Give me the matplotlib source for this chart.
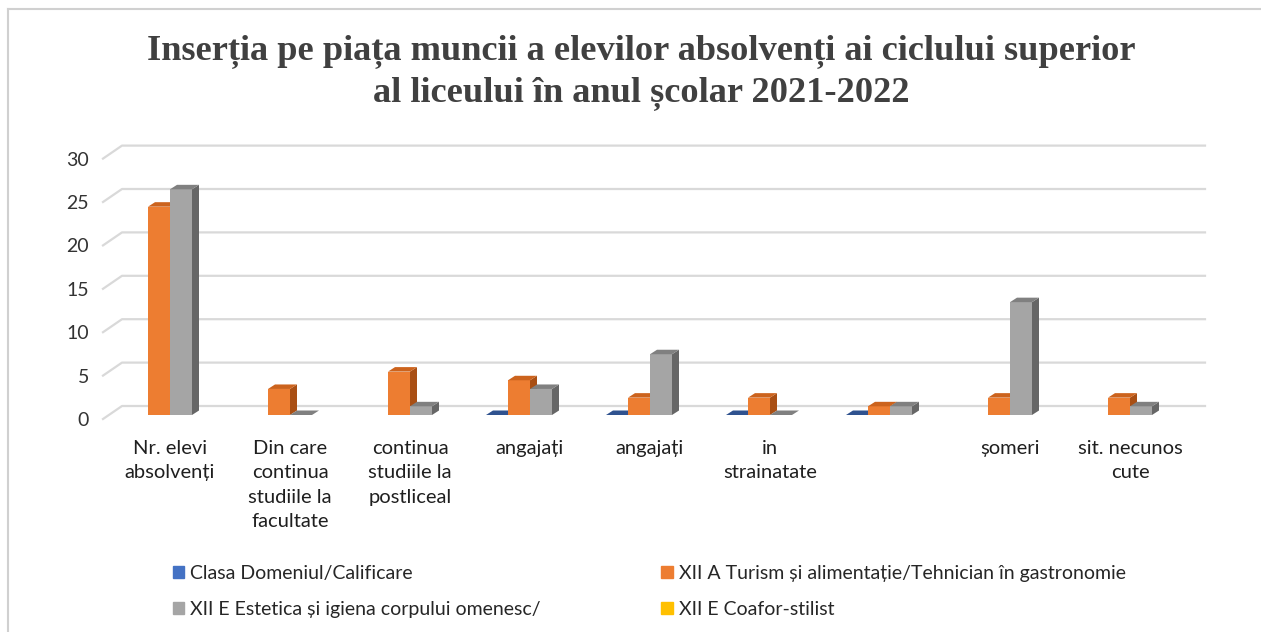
import numpy as np
import matplotlib
matplotlib.use("Agg")
import matplotlib.pyplot as plt
from matplotlib.patches import Polygon, Patch
from matplotlib.lines import Line2D
from matplotlib.transforms import ScaledTranslation

# ---------------- data ----------------
categories = ["Nr. elevi\nabsolvenți", "Din care\ncontinua\nstudiile la\nfacultate",
              "continua\nstudiile la\npostliceal", "angajați", "angajați",
              "in\nstrainatate", "", "șomeri", "sit. necunos\ncute"]
series_names = ["Clasa Domeniul/Calificare",
                "XII A Turism și alimentație/Tehnician în gastronomie",
                "XII E Estetica și igiena corpului omenesc/",
                "XII E Coafor-stilist"]
clasa = [np.nan, np.nan, np.nan, 0, 0, 0, 0, np.nan, np.nan]
turism = [24, 3, 5, 4, 2, 2, 1, 2, 2]
estetica = [26, 0, 1, 3, 7, 0, 1, 13, 1]
coafor = [np.nan] * 9
yticks = [0, 5, 10, 15, 20, 25, 30]
title = "Inserția pe piața muncii a elevilor absolvenți ai ciclului superior\nal liceului în anul școlar 2021-2022"

# colors: (front, top, side)
colors = [("#4472C4", "#2F528F", "#24406F"),
          ("#ED7D31", "#CC631D", "#A94F14"),
          ("#A5A5A5", "#808080", "#666666"),
          ("#FFC000", "#D9A300", "#B38600")]

W, H = 1261, 632
fig = plt.figure(figsize=(W / 100, H / 100), dpi=100)
fig.patch.set_facecolor("white")

# axes in pixel geometry
left_px, right_px, base_px = 103, 1190, 415
ppu_y = 8.68
top_px = base_px - 30 * ppu_y
ax = fig.add_axes([left_px / W, 1 - base_px / H, (right_px - left_px) / W, (base_px - top_px) / H])
ppu_x = 120.0
xmin = -(170 - left_px) / ppu_x
xmax = xmin + (right_px - left_px) / ppu_x
ax.set_xlim(xmin, xmax)
ax.set_ylim(0, 30)
for s in ax.spines.values():
    s.set_visible(False)
ax.set_facecolor("none")

# back-wall gridlines with perspective diagonals
dxg, dyg = 19 / ppu_x, 9 / ppu_y
dy_front = -4 / ppu_y
for v in yticks:
    ax.add_line(Line2D([xmin, xmin + dxg, xmax + 15 / ppu_x],
                       [v + dy_front, v + dyg, v + dyg],
                       color="#D9D9D9", lw=1.6, clip_on=False, zorder=1))

# 3D bars
bw = 22 / ppu_x
ddx, ddy = 7 / ppu_x, 4.5 / ppu_y
all_series = [clasa, turism, estetica, coafor]
x = np.arange(len(categories))
z = 2
for ci in range(len(categories)):
    for si, vals in enumerate(all_series):
        v = vals[ci]
        if np.isnan(v):
            continue
        x0 = ci + (si - 2) * bw
        x1 = x0 + bw
        front, topc, side = colors[si]
        if v > 0:
            ax.bar(x0, v, width=bw, align="edge", color=front, edgecolor="none", zorder=z, clip_on=False)
            ax.add_patch(Polygon([(x1, 0), (x1 + ddx, ddy), (x1 + ddx, v + ddy), (x1, v)],
                                 closed=True, fc=side, ec="none", zorder=z, clip_on=False))
        ax.add_patch(Polygon([(x0, v), (x1, v), (x1 + ddx, v + ddy), (x0 + ddx, v + ddy)],
                             closed=True, fc=topc, ec="none", zorder=z, clip_on=False))
        z += 1

# y tick labels
ax.set_yticks(yticks)
ax.set_yticklabels([str(t) for t in yticks], fontsize=14, color="#333333", family="Lato")
ax.tick_params(axis="y", length=0, pad=10)
for lab in ax.get_yticklabels():
    lab.set_transform(lab.get_transform() + ScaledTranslation(0, -4 / 100, fig.dpi_scale_trans))

# category labels
ax.set_xticks(x)
ax.set_xticklabels(categories, fontsize=14.5, color="#1F1F1F", family="Lato", linespacing=1.52)
ax.tick_params(axis="x", length=0, pad=18)

# title
fig.text(641 / W, 1 - 72 / H, title, ha="center", va="center", fontsize=26.2,
         fontweight="bold", family="Liberation Serif", color="#404040", linespacing=1.33)

# legend
handles = [Patch(color=colors[i][0]) for i in range(4)]
order = [0, 2, 1, 3]
leg = fig.legend([handles[i] for i in order], [series_names[i] for i in order],
                 ncol=2, loc="upper left", bbox_to_anchor=(163 / W, 1 - 555 / H),
                 frameon=False, prop={"family": "Lato", "size": 14},
                 handlelength=0.6, handleheight=0.6, handletextpad=0.3,
                 columnspacing=6.2, labelspacing=1.0, borderpad=0)
for t in leg.get_texts():
    t.set_color("#262626")

# outer border (top and left)
fig.add_artist(Line2D([8 / W, 1], [1 - 9 / H, 1 - 9 / H], color="#D0D0D0", lw=1.5))
fig.add_artist(Line2D([8 / W, 8 / W], [0, 1 - 9 / H], color="#D0D0D0", lw=1.5))

fig.savefig("out.png", dpi=100)
